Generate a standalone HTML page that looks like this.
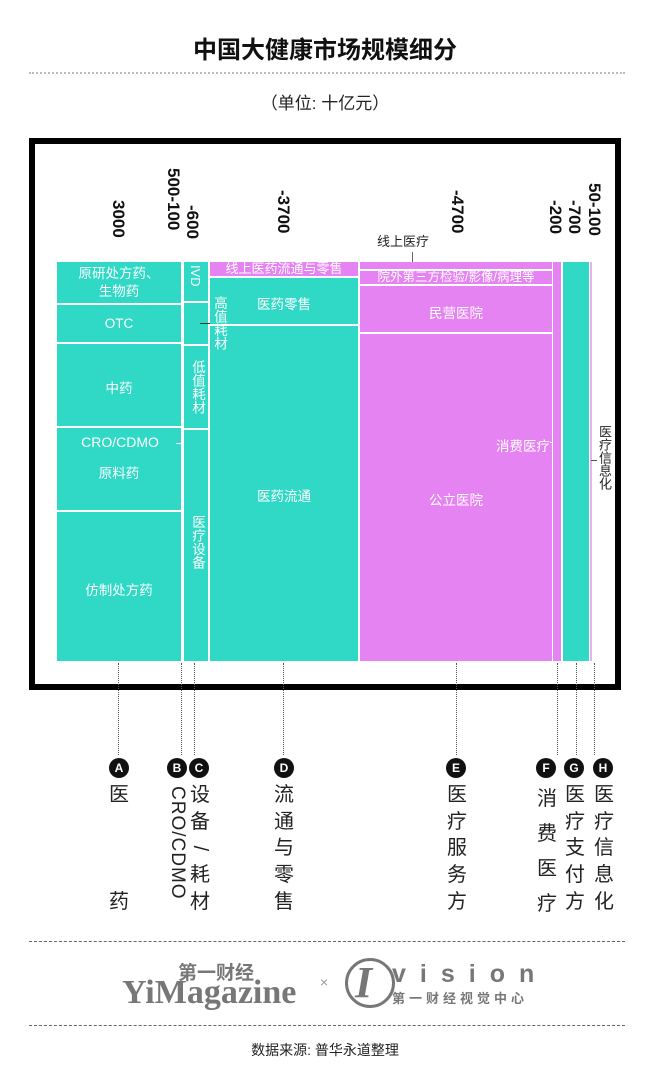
<!DOCTYPE html>
<html><head><meta charset="utf-8"><style>
*{margin:0;padding:0;box-sizing:border-box}
body{width:650px;height:1084px;background:#fff;position:relative;overflow:hidden;font-family:"Liberation Sans","Noto Sans CJK SC",sans-serif;}
.a{position:absolute}
.t{background:#30d9c6}
.p{background:#e683f3}
.w{color:#fff;font-size:13.5px;text-align:center;white-space:nowrap}
.v{writing-mode:vertical-rl;}
.num{position:absolute;writing-mode:vertical-rl;font-weight:bold;font-size:17px;color:#111;line-height:17px;letter-spacing:0px}
.dl{position:absolute;width:0;border-left:1px dotted #555}
.c{position:absolute;width:20px;height:20px;border-radius:50%;background:#111;color:#fff;font-size:12px;font-weight:bold;text-align:center;line-height:20px}
.lab{position:absolute;font-size:20px;color:#222;line-height:26.7px;width:24px;text-align:center}
</style></head><body>
<div class="a" style="left:0;top:30px;width:650px;text-align:center;font-size:24px;font-weight:bold;color:#111">中国大健康市场规模细分</div>
<div class="a" style="left:29px;top:72px;width:596px;border-top:2px dotted #bbb"></div>
<div class="a" style="left:0;top:89px;width:650px;text-align:center;font-size:17px;color:#222">（单位: 十亿元）</div>

<div class="a" style="left:29px;top:138px;width:592px;height:552px;border:6px solid #000"></div>

<!-- numbers -->
<div class="num" style="left:110px;top:200px">3000</div>
<div class="num" style="left:165px;top:168px">500-100</div>
<div class="num" style="left:184px;top:205px">-600</div>
<div class="num" style="left:275px;top:190px">-3700</div>
<div class="num" style="left:449px;top:190px">-4700</div>
<div class="num" style="left:547px;top:200px">-200</div>
<div class="num" style="left:566px;top:200px">-700</div>
<div class="num" style="left:586px;top:183px">50-100</div>
<div class="a" style="left:377px;top:231px;font-size:13px;color:#222">线上医疗</div>
<div class="a" style="left:412px;top:252px;width:1px;height:14px;background:#666"></div>

<!-- A -->
<div class="a t" style="left:57px;top:262px;width:124px;height:41px"></div>
<div class="a t" style="left:57px;top:305px;width:124px;height:37px"></div>
<div class="a t" style="left:57px;top:344px;width:124px;height:82px"></div>
<div class="a t" style="left:57px;top:428px;width:124px;height:82px"></div>
<div class="a t" style="left:57px;top:512px;width:124px;height:149px"></div>
<div class="a w" style="left:57px;top:265px;width:124px;line-height:18px">原研处方药、<br>生物药</div>
<div class="a w" style="left:57px;top:316px;width:124px">OTC</div>
<div class="a w" style="left:57px;top:377px;width:124px">中药</div>
<div class="a w" style="left:60px;top:434px;width:120px;font-size:14px">CRO/CDMO</div>
<div class="a w" style="left:57px;top:462px;width:124px">原料药</div>
<div class="a w" style="left:57px;top:579px;width:124px">仿制处方药</div>
<div class="a" style="left:176px;top:443px;width:8px;height:1px;background:#fff"></div>

<!-- BC column -->
<div class="a t" style="left:184px;top:262px;width:24px;height:39px"></div>
<div class="a t" style="left:184px;top:303px;width:24px;height:41px"></div>
<div class="a t" style="left:184px;top:346px;width:24px;height:82px"></div>
<div class="a t" style="left:184px;top:430px;width:24px;height:231px"></div>
<div class="a w v" style="left:188px;top:265px;font-size:13px">IVD</div>
<div class="a w v" style="left:187px;top:360px">低值耗材</div>
<div class="a w v" style="left:187px;top:515px">医疗设备</div>
<div class="a" style="left:200px;top:323px;width:24px;height:1px;background:#333"></div>

<!-- D -->
<div class="a p" style="left:210px;top:262px;width:148px;height:14px"></div>
<div class="a t" style="left:210px;top:278px;width:148px;height:46px"></div>
<div class="a t" style="left:210px;top:326px;width:148px;height:335px"></div>
<div class="a w" style="left:210px;top:261px;width:148px;font-size:13px;line-height:16px">线上医药流通与零售</div>
<div class="a w" style="left:210px;top:293px;width:148px">医药零售</div>
<div class="a w" style="left:210px;top:485px;width:148px">医药流通</div>
<div class="a w v" style="left:211px;top:296px;line-height:16px">高值耗材</div>

<!-- E -->
<div class="a p" style="left:360px;top:262px;width:192px;height:7px"></div>
<div class="a p" style="left:360px;top:271px;width:192px;height:13px"></div>
<div class="a p" style="left:360px;top:286px;width:192px;height:46px"></div>
<div class="a p" style="left:360px;top:334px;width:192px;height:327px"></div>
<div class="a w" style="left:360px;top:269px;width:192px;font-size:12.5px;line-height:16px">院外第三方检验/影像/病理等</div>
<div class="a w" style="left:360px;top:302px;width:192px">民营医院</div>
<div class="a w" style="left:360px;top:489px;width:192px">公立医院</div>
<div class="a w" style="left:490px;top:435px;width:60px;text-align:right">消费医疗</div>
<div class="a" style="left:550px;top:442px;width:8px;height:1px;background:#fff"></div>

<!-- F G H -->
<div class="a p" style="left:553px;top:262px;width:8px;height:399px"></div>
<div class="a t" style="left:563px;top:262px;width:26px;height:399px"></div>
<div class="a" style="left:590px;top:262px;width:2px;height:399px;background:#e9b0f0"></div>
<div class="a v" style="left:596px;top:425px;font-size:13px;color:#222;line-height:16px">医疗信息化</div>
<div class="a" style="left:591px;top:460px;width:6px;height:1px;background:#555"></div>

<!-- dotted connectors -->
<div class="dl" style="left:118px;top:663px;height:92px"></div>
<div class="dl" style="left:181px;top:663px;height:92px"></div>
<div class="dl" style="left:194px;top:663px;height:92px"></div>
<div class="dl" style="left:283px;top:663px;height:92px"></div>
<div class="dl" style="left:456px;top:663px;height:92px"></div>
<div class="dl" style="left:557px;top:663px;height:92px"></div>
<div class="dl" style="left:576px;top:663px;height:92px"></div>
<div class="dl" style="left:594px;top:663px;height:92px"></div>

<div class="c" style="left:109px;top:758px">A</div>
<div class="c" style="left:167px;top:758px">B</div>
<div class="c" style="left:189px;top:758px">C</div>
<div class="c" style="left:274px;top:758px">D</div>
<div class="c" style="left:446px;top:758px">E</div>
<div class="c" style="left:536px;top:758px">F</div>
<div class="c" style="left:564px;top:758px">G</div>
<div class="c" style="left:593px;top:758px">H</div>

<div class="lab" style="left:107px;top:782px">医</div>
<div class="lab" style="left:107px;top:889px">药</div>
<div class="lab v" style="left:165px;top:786px;width:24px;font-size:19px;line-height:24px;letter-spacing:1px">CRO/CDMO</div>
<div class="lab" style="left:188px;top:782px">设<br>备<br><span style="display:inline-block;transform:rotate(90deg)">/</span><br>耗<br>材</div>
<div class="lab" style="left:272px;top:782px">流<br>通<br>与<br>零<br>售</div>
<div class="lab" style="left:445px;top:782px">医<br>疗<br>服<br>务<br>方</div>
<div class="lab" style="left:535px;top:782px;line-height:35px">消<br>费<br>医<br>疗</div>
<div class="lab" style="left:563px;top:782px">医<br>疗<br>支<br>付<br>方</div>
<div class="lab" style="left:592px;top:782px">医<br>疗<br>信<br>息<br>化</div>

<!-- footer -->
<div class="a" style="left:29px;top:941px;width:596px;border-top:1px dashed #666"></div>
<div class="a" style="left:178px;top:958px;font-size:19px;color:#777;font-weight:bold">第一财经</div>
<div class="a" style="left:122px;top:974px;font-family:'Liberation Serif',serif;font-weight:bold;font-size:34px;color:#777">YiMagazine</div>
<div class="a" style="left:320px;top:974px;font-size:14px;color:#999">×</div>
<div class="a" style="left:345px;top:958px;width:50px;height:50px;border:3px solid #777;border-radius:50%"></div>
<div class="a" style="left:355px;top:960px;font-family:'Liberation Serif',serif;font-style:italic;font-weight:bold;font-size:44px;color:#777;line-height:46px">I</div>
<div class="a" style="left:392px;top:961px;font-size:25px;font-weight:bold;color:#777;letter-spacing:14px;line-height:26px">vision</div>
<div class="a" style="left:392px;top:988px;font-size:13px;font-weight:bold;color:#777;letter-spacing:4px">第一财经视觉中心</div>
<div class="a" style="left:29px;top:1025px;width:596px;border-top:1px dashed #666"></div>
<div class="a" style="left:0;top:1040px;width:650px;text-align:center;font-size:14px;color:#222">数据来源: 普华永道整理</div>
</body></html>
